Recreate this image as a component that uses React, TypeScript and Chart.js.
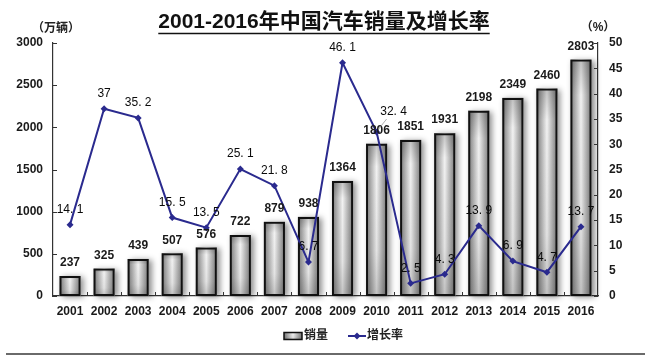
import React, { useEffect, useRef } from "react";
import { Chart, registerables } from "chart.js";

Chart.register(...registerables);

const years = ["2001", "2002", "2003", "2004", "2005", "2006", "2007", "2008", "2009", "2010", "2011", "2012", "2013", "2014", "2015", "2016"];
const sales = [237, 325, 439, 507, 576, 722, 879, 938, 1364, 1806, 1851, 1931, 2198, 2349, 2460, 2803];
const growth = [14.1, 37, 35.2, 15.5, 13.5, 25.1, 21.8, 6.7, 46.1, 32.4, 2.5, 4.3, 13.9, 6.9, 4.7, 13.7];
const salesAxis = { min: 0, max: 3000, step: 500 };
const growthAxis = { min: 0, max: 50, step: 5 };
const titleText = "2001-2016年中国汽车销量及增长率";
const leftUnit = "（万辆）";
const rightUnit = "（%）";
const salesName = "销量";
const growthName = "增长率";

const FONT = '"Liberation Sans", "Noto Sans CJK SC", sans-serif';
const NAVY = "#2a2a8e";

function fmt(v: number) {
  return String(v).replace(".", ". ");
}

function barFill(ctx: CanvasRenderingContext2D, x0: number, y0: number, w: number, h: number) {
  const g = ctx.createLinearGradient(x0, 0, x0 + w, 0);
  g.addColorStop(0, "#777");
  g.addColorStop(0.5, "#f2f2f2");
  g.addColorStop(1, "#777");
  ctx.fillStyle = g;
  ctx.fillRect(x0, y0, w, h);
  const v = ctx.createLinearGradient(0, y0, 0, y0 + h);
  v.addColorStop(0, "rgba(0,0,0,0.2)");
  v.addColorStop(0.15, "rgba(0,0,0,0)");
  v.addColorStop(0.7, "rgba(0,0,0,0.06)");
  v.addColorStop(1, "rgba(0,0,0,0.2)");
  ctx.fillStyle = v;
  ctx.fillRect(x0, y0, w, h);
}

const decor = {
  id: "decor",
  beforeDatasetsDraw(chart: any) {
    const ctx: CanvasRenderingContext2D = chart.ctx;
    const meta = chart.getDatasetMeta(0);
    meta.data.forEach((el: any) => {
      const { x, y, base, width } = el.getProps(["x", "y", "base", "width"], true);
      const x0 = x - width / 2;
      const h = base - y;
      ctx.save();
      ctx.shadowColor = "rgba(0,0,0,0.45)";
      ctx.shadowBlur = 6;
      ctx.shadowOffsetX = 3;
      ctx.shadowOffsetY = 1;
      ctx.fillStyle = "#999";
      ctx.fillRect(x0, y, width, h);
      ctx.restore();
      ctx.save();
      barFill(ctx, x0, y, width, h);
      ctx.restore();
    });
  },
  afterDatasetsDraw(chart: any) {
    const ctx: CanvasRenderingContext2D = chart.ctx;
    const { left, right, bottom } = chart.chartArea;
    ctx.save();
    ctx.strokeStyle = "#333";
    ctx.lineWidth = 1;
    const yL = chart.scales.y;
    for (let v = salesAxis.min; v <= salesAxis.max; v += salesAxis.step) {
      const py = Math.round(yL.getPixelForValue(v)) + 0.5;
      ctx.beginPath();
      ctx.moveTo(left, py);
      ctx.lineTo(left + 4, py);
      ctx.stroke();
    }
    const yR = chart.scales.y1;
    for (let v = growthAxis.min; v <= growthAxis.max; v += growthAxis.step) {
      const py = Math.round(yR.getPixelForValue(v)) + 0.5;
      ctx.beginPath();
      ctx.moveTo(right, py);
      ctx.lineTo(right - 4, py);
      ctx.stroke();
    }
    const xs = chart.scales.x;
    const step = (right - left) / years.length;
    for (let i = 1; i < years.length; i++) {
      const px = Math.round(xs.getPixelForValue(i) - step / 2) + 0.5;
      ctx.beginPath();
      ctx.moveTo(px, bottom);
      ctx.lineTo(px, bottom - 4);
      ctx.stroke();
    }
    ctx.restore();

    ctx.save();
    ctx.font = `bold 12px ${FONT}`;
    ctx.fillStyle = "#1a1a1a";
    ctx.textAlign = "center";
    ctx.textBaseline = "middle";
    chart.getDatasetMeta(0).data.forEach((el: any, i: number) => {
      const { x, y } = el.getProps(["x", "y"], true);
      ctx.fillText(String(sales[i]), x, y - 13);
    });
    ctx.font = `12px ${FONT}`;
    ctx.fillStyle = "#0a0a0a";
    chart.getDatasetMeta(1).data.forEach((el: any, i: number) => {
      const { x, y } = el.getProps(["x", "y"], true);
      if (i === 9) {
        ctx.strokeStyle = "#999";
        ctx.lineWidth = 0.8;
        ctx.beginPath();
        ctx.moveTo(x + 2, y - 3);
        ctx.lineTo(x + 10, y - 13);
        ctx.stroke();
        ctx.fillText(fmt(growth[i]), x + 17, y - 20);
      } else {
        ctx.fillText(fmt(growth[i]), x, y - 15);
      }
    });
    ctx.restore();
  },
  afterDraw(chart: any) {
    const ctx: CanvasRenderingContext2D = chart.ctx;
    const { right } = chart.chartArea;
    ctx.save();
    ctx.font = `bold 21px ${FONT}`;
    ctx.fillStyle = "#111";
    ctx.textAlign = "center";
    ctx.textBaseline = "middle";
    const cx = 324;
    ctx.fillText(titleText, cx, 22);
    const tw = ctx.measureText(titleText).width;
    ctx.strokeStyle = "#111";
    ctx.lineWidth = 1.6;
    ctx.beginPath();
    ctx.moveTo(cx - tw / 2, 33.5);
    ctx.lineTo(cx + tw / 2, 33.5);
    ctx.stroke();
    ctx.font = `bold 12px ${FONT}`;
    ctx.fillStyle = "#222";
    ctx.fillText(leftUnit, 56, 29);
    ctx.fillText(rightUnit, right, 28);
    const ly = 336;
    barFill(ctx, 284, ly - 3.5, 18, 7);
    ctx.strokeStyle = "#111";
    ctx.lineWidth = 1.5;
    ctx.strokeRect(284, ly - 3.5, 18, 7);
    ctx.fillStyle = "#222";
    ctx.textAlign = "left";
    ctx.fillText(salesName, 304, ly);
    ctx.strokeStyle = NAVY;
    ctx.lineWidth = 2;
    ctx.beginPath();
    ctx.moveTo(348, ly);
    ctx.lineTo(366, ly);
    ctx.stroke();
    ctx.fillStyle = NAVY;
    ctx.beginPath();
    ctx.moveTo(357, ly - 3.5);
    ctx.lineTo(360.5, ly);
    ctx.lineTo(357, ly + 3.5);
    ctx.lineTo(353.5, ly);
    ctx.closePath();
    ctx.fill();
    ctx.fillStyle = "#222";
    ctx.fillText(growthName, 367, ly);
    ctx.strokeStyle = "#6a6a6a";
    ctx.lineWidth = 2;
    ctx.beginPath();
    ctx.moveTo(6, 354);
    ctx.lineTo(645, 354);
    ctx.stroke();
    ctx.restore();
  },
};

export default function App() {
  const ref = useRef<HTMLCanvasElement | null>(null);
  useEffect(() => {
    if (!ref.current) return;
    const tickFont = { family: FONT, size: 12, weight: "bold" as const };
    const plain = (v: any) => String(v);
    const chart = new Chart(ref.current, {
      type: "bar",
      data: {
        labels: years,
        datasets: [
          {
            type: "bar",
            label: salesName,
            data: sales,
            yAxisID: "y",
            backgroundColor: "rgba(0,0,0,0)",
            borderColor: "#111",
            borderWidth: 2,
            borderSkipped: false,
            barPercentage: 0.62,
            categoryPercentage: 1,
            order: 1,
          },
          {
            type: "line",
            label: growthName,
            data: growth,
            yAxisID: "y1",
            borderColor: NAVY,
            backgroundColor: NAVY,
            borderWidth: 2,
            pointStyle: "rectRot",
            pointRadius: 3.5,
            pointBorderWidth: 0,
            tension: 0,
            order: 0,
          },
        ],
      },
      options: {
        responsive: false,
        animation: false,
        devicePixelRatio: 1,
        layout: { padding: { top: 43, left: 0, right: 0, bottom: 0 } },
        plugins: { legend: { display: false }, title: { display: false }, tooltip: { enabled: false } },
        scales: {
          x: {
            grid: { display: false, drawTicks: false },
            border: { display: true, color: "#333", width: 1.2 },
            ticks: { font: tickFont, color: "#1a1a1a", padding: 8, maxRotation: 0, autoSkip: false },
            afterFit: (s: any) => { s.height = 66; },
          },
          y: {
            position: "left",
            min: salesAxis.min,
            max: salesAxis.max,
            grid: { display: false, drawTicks: false },
            border: { display: true, color: "#333", width: 1.2 },
            ticks: { stepSize: salesAxis.step, font: tickFont, color: "#1a1a1a", padding: 10, callback: plain },
            afterFit: (s: any) => { s.width = 53; },
          },
          y1: {
            position: "right",
            min: growthAxis.min,
            max: growthAxis.max,
            grid: { display: false, drawTicks: false },
            border: { display: true, color: "#333", width: 1.2 },
            ticks: { stepSize: growthAxis.step, font: tickFont, color: "#1a1a1a", padding: 11, callback: plain },
            afterFit: (s: any) => { s.width = 57; },
          },
        },
      },
      plugins: [decor],
    });
    return () => chart.destroy();
  }, []);
  return (
    <div style={{ position: "fixed", left: 0, top: 0, width: 655, height: 362, background: "#fff" }}>
      <canvas ref={ref} width={655} height={362} style={{ display: "block" }} />
    </div>
  );
}
